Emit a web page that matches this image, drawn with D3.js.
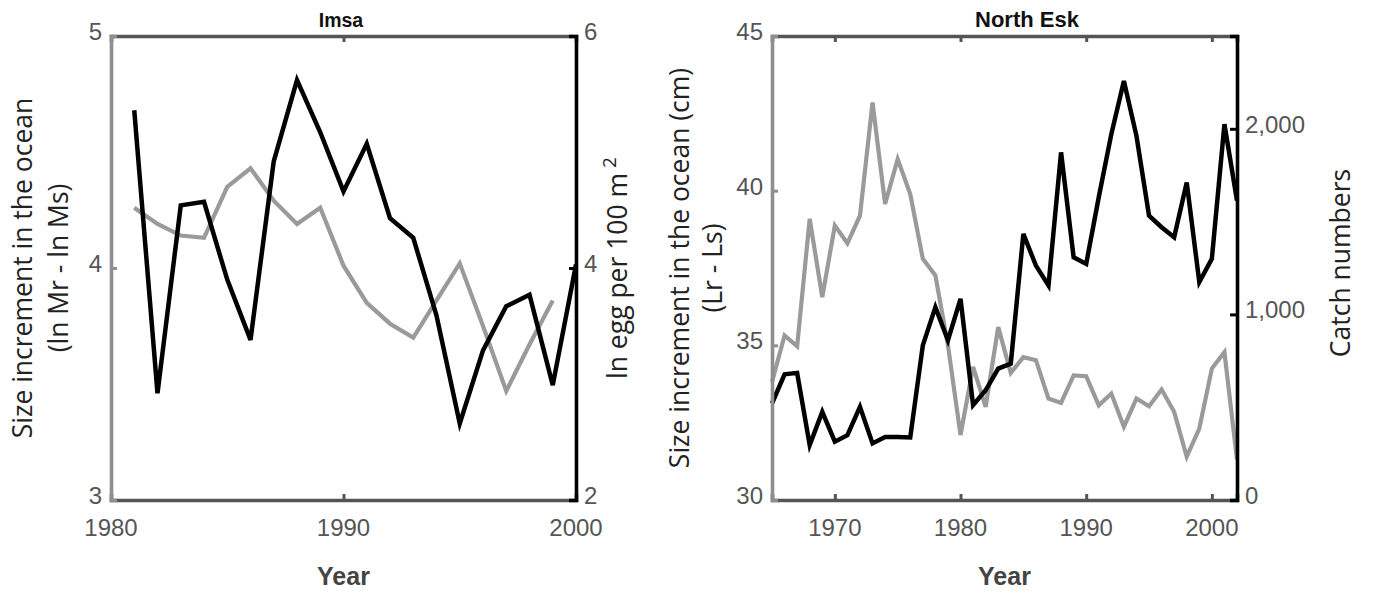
<!DOCTYPE html>
<html>
<head>
<meta charset="utf-8">
<script src="https://cdn.jsdelivr.net/npm/d3@7/dist/d3.min.js"></script>
<style>
  html, body { margin: 0; padding: 0; background: #fff; }
  svg { display: block; }
  .tick-label { font-family: "Liberation Sans", Arial, sans-serif; font-size: 24px; fill: #555; }
  .axis-title { font-family: "Open Sans", "Noto Sans", sans-serif; font-size: 26.5px; fill: #222; }
  .x-title { font-family: "Liberation Sans", Arial, sans-serif; font-size: 25px; font-weight: bold; fill: #444; }
  .panel-title { font-family: "Liberation Sans", Arial, sans-serif; font-weight: bold; fill: #111; }
</style>
</head>
<body>
<svg id="chart" width="1375" height="593"></svg>
<script>
// ---- Imsa ----
const imsaYears = d3.range(1981, 2001);
// ln egg per 100 m^2 (right axis), 1981-2000
const imsaEgg = [5.36, 2.92, 4.54, 4.57, 3.90, 3.38, 4.92, 5.62, 5.17, 4.66,
                 5.07, 4.43, 4.26, 3.59, 2.66, 3.29, 3.67, 3.77, 2.99, 4.03];
// size increment, ln Mr - ln Ms (left axis), 1981-1999
const imsaSize = [4.26, 4.19, 4.14, 4.13, 4.35, 4.43, 4.29, 4.19, 4.26, 4.01,
                  3.85, 3.76, 3.70, 3.86, 4.02, 3.75, 3.47, 3.67, 3.86];
const imsaXTicks = [1980, 1990, 2000];
const imsaLeftTicks = [3, 4, 5];
const imsaRightTicks = [2, 4, 6];

// ---- North Esk ----
const eskYears = d3.range(1965, 2003);
// size increment Lr - Ls, cm (left axis), 1965-2002
const eskSize = [33.82, 35.32, 34.97, 39.09, 36.56, 38.87, 38.30, 39.19, 42.85, 39.57,
                 41.02, 39.89, 37.80, 37.26, 35.00, 32.10, 34.30, 33.01, 35.59, 34.11,
                 34.62, 34.52, 33.28, 33.14, 34.03, 34.00, 33.06, 33.44, 32.37, 33.28,
                 33.03, 33.57, 32.85, 31.40, 32.31, 34.25, 34.78, 31.30];
// catch numbers (right axis), 1965-2002
const eskCatch = [520, 677, 685, 296, 475, 314, 349, 502, 305, 340,
                  340, 337, 833, 1039, 860, 1084, 511, 591, 708, 735,
                  1434, 1263, 1156, 1873, 1308, 1272, 1631, 1971, 2258, 1962,
                  1532, 1470, 1416, 1711, 1174, 1300, 2025, 1613];
const eskXTicks = [1970, 1980, 1990, 2000];
const eskLeftTicks = [30, 35, 40, 45];
const eskRightTicks = [0, 1000, 2000];

const GREY = "#9a9a9a";
const AXIS_GREY = "#8e8e8e";
const FRAME = "#555";
const svg = d3.select("#chart");

function panel(cfg) {
  const g = svg.append("g");
  const x = d3.scaleLinear().domain(cfg.xDomain).range([cfg.left, cfg.right]);
  const yL = d3.scaleLinear().domain(cfg.leftDomain).range([cfg.bottom, cfg.top]);
  const yR = d3.scaleLinear().domain(cfg.rightDomain).range([cfg.bottom, cfg.top]);

  // data lines
  const lineL = d3.line().x((d, i) => x(cfg.leftYears[i])).y(d => yL(d));
  const lineR = d3.line().x((d, i) => x(cfg.rightYears[i])).y(d => yR(d));
  g.append("path").datum(cfg.leftValues).attr("d", lineL)
    .attr("fill", "none").attr("stroke", GREY).attr("stroke-width", 4.2)
    .attr("stroke-linejoin", "miter");
  g.append("path").datum(cfg.rightValues).attr("d", lineR)
    .attr("fill", "none").attr("stroke", "#000").attr("stroke-width", 4.5)
    .attr("stroke-linejoin", "miter");

  // frame: top and bottom x axes (ticks inward)
  const xTop = d3.axisBottom(x).tickValues(cfg.xTicks).tickSize(6).tickFormat("");
  const xBot = d3.axisTop(x).tickValues(cfg.xTicks).tickSize(6).tickFormat("");
  [[xTop, cfg.top], [xBot, cfg.bottom]].forEach(([ax, yy]) => {
    const a = g.append("g").attr("transform", `translate(0,${yy})`).call(ax);
    a.select(".domain").attr("stroke", FRAME).attr("stroke-width", 3.6);
    a.selectAll(".tick line").attr("stroke", FRAME).attr("stroke-width", 3);
  });

  // left axis (grey), ticks inward
  const aL = g.append("g").attr("transform", `translate(${cfg.left},0)`)
    .call(d3.axisRight(yL).tickValues(cfg.leftTicks).tickSize(6).tickFormat(""));
  aL.select(".domain").attr("stroke", AXIS_GREY).attr("stroke-width", 3.6);
  aL.selectAll(".tick line").attr("stroke", AXIS_GREY).attr("stroke-width", 3);

  // right axis (black), ticks inward
  const aR = g.append("g").attr("transform", `translate(${cfg.right},0)`)
    .call(d3.axisLeft(yR).tickValues(cfg.rightTicks).tickSize(7).tickFormat(""));
  aR.select(".domain").attr("stroke", "#000").attr("stroke-width", 3.6);
  aR.selectAll(".tick line").attr("stroke", "#000").attr("stroke-width", 3);

  // tick labels
  g.selectAll(".xl").data(cfg.xTicks).join("text").attr("class", "tick-label")
    .attr("x", d => x(d)).attr("y", cfg.bottom + 36).attr("text-anchor", "middle")
    .text(d => d);
  g.selectAll(".yl").data(cfg.leftTicks).join("text").attr("class", "tick-label")
    .attr("x", cfg.left - 9).attr("y", d => yL(d) + 4).attr("text-anchor", "end")
    .text(d => d);
  g.selectAll(".yr").data(cfg.rightTicks).join("text").attr("class", "tick-label")
    .attr("x", cfg.right + 8).attr("y", d => yR(d) + 4).attr("text-anchor", "start")
    .text(cfg.rightFormat);

  // titles
  g.append("text").attr("class", "panel-title").style("font-size", cfg.titleSize + "px")
    .attr("x", cfg.titleX).attr("y", 27).attr("text-anchor", "middle").text(cfg.title);
  g.append("text").attr("class", "x-title")
    .attr("x", (cfg.left + cfg.right) / 2).attr("y", 585).attr("text-anchor", "middle").text("Year");

  const midY = (cfg.top + cfg.bottom) / 2;
  cfg.leftTitle.forEach((t, i) => {
    g.append("text").attr("class", "axis-title")
      .attr("transform", `translate(${cfg.leftTitleX[i]},${midY}) rotate(-90)`)
      .attr("text-anchor", "middle").attr("dy", "0.35em").text(t);
  });
  return { g, midY };
}

panel({
  left: 111, right: 576, top: 36, bottom: 500,
  xDomain: [1980, 2000], leftDomain: [3, 5], rightDomain: [2, 6],
  leftYears: imsaYears.slice(0, imsaSize.length), leftValues: imsaSize,
  rightYears: imsaYears, rightValues: imsaEgg,
  xTicks: imsaXTicks, leftTicks: imsaLeftTicks, rightTicks: imsaRightTicks,
  rightFormat: d => d,
  title: "Imsa", titleX: 341, titleSize: 19.5,
  leftTitle: ["Size increment in the ocean", "(ln Mr - ln Ms)"], leftTitleX: [23, 59]
});

panel({
  left: 772, right: 1237, top: 36, bottom: 500,
  xDomain: [1965, 2002], leftDomain: [30, 45], rightDomain: [0, 2500],
  leftYears: eskYears, leftValues: eskSize,
  rightYears: eskYears, rightValues: eskCatch,
  xTicks: eskXTicks, leftTicks: eskLeftTicks, rightTicks: eskRightTicks,
  rightFormat: d3.format(","),
  title: "North Esk", titleX: 1027, titleSize: 22,
  leftTitle: ["Size increment in the ocean (cm)", "(Lr - Ls)"], leftTitleX: [680, 713]
});

// right-hand axis titles
const eggTitle = svg.append("text").attr("class", "axis-title")
  .attr("transform", "translate(618,268) rotate(-90)")
  .attr("text-anchor", "middle").attr("dy", "0.35em");
eggTitle.append("tspan").text("ln egg per 100 m");
eggTitle.append("tspan").attr("dx", 5).attr("dy", -11).style("font-size", "19px").text("2");

svg.append("text").attr("class", "axis-title")
  .attr("transform", "translate(1341,263) rotate(-90)")
  .attr("text-anchor", "middle").attr("dy", "0.35em").text("Catch numbers");
</script>
</body>
</html>
